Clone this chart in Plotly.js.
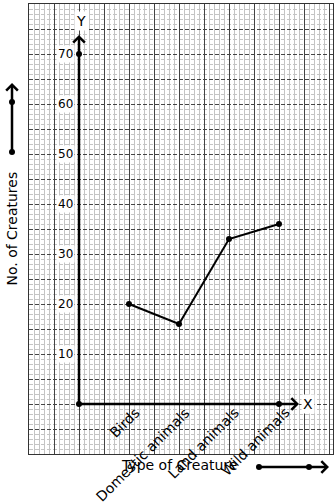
<!DOCTYPE html>
<html>
<head>
<meta charset="utf-8">
<script src="https://cdn.plot.ly/plotly-3.0.1.min.js"></script>
<style>html,body{margin:0;padding:0;background:#fff;}#chart{width:334px;height:503px;}</style>
</head>
<body>
<div id="chart"></div>
<script>
// ---- data ----
var categories = ["Birds", "Domestic animals", "Land animals", "Wild animals"];
var creatureCounts = [20, 16, 33, 36];
var yTickValues = [10, 20, 30, 40, 50, 60, 70];
var xTitle = "Type of Creature";
var yTitle = "No. of Creatures";

var xPos = categories.map(function (c, i) { return i + 1; });
var FONT = "DejaVu Sans, sans-serif";

var traces = [{
  type: "scatter",
  mode: "lines+markers",
  x: xPos,
  y: creatureCounts,
  text: categories,
  line: { color: "#000", width: 2 },
  marker: { color: "#000", size: 6 },
  hoverinfo: "text+y",
  showlegend: false
}];

var annotations = [];
// y tick labels on the y axis line
yTickValues.forEach(function (v) {
  annotations.push({
    xref: "x", yref: "y", x: 0, y: v, text: String(v),
    showarrow: false, xanchor: "right", yanchor: "middle", xshift: -4,
    bgcolor: "#fff", borderpad: 1,
    font: { family: FONT, size: 12, color: "#000" }
  });
});
// rotated category labels
categories.forEach(function (c, i) {
  annotations.push({
    xref: "x", yref: "y", x: xPos[i], y: 0, text: c,
    showarrow: false, textangle: -45, xanchor: "right", yanchor: "top",
    xshift: 16, yshift: 2,
    font: { family: FONT, size: 14, color: "#000" }
  });
});
// axis arrows
annotations.push({
  xref: "x", yref: "y", axref: "x", ayref: "y",
  x: 0, y: 73.8, ax: 0, ay: 0, text: "",
  showarrow: true, arrowhead: 4, arrowwidth: 2.5, arrowsize: 0.9, arrowcolor: "#000"
});
annotations.push({
  xref: "x", yref: "y", axref: "x", ayref: "y",
  x: 4.4, y: 0, ax: 0, ay: 0, text: "",
  showarrow: true, arrowhead: 4, arrowwidth: 2.5, arrowsize: 0.9, arrowcolor: "#000"
});
// axis letters
annotations.push({ xref: "x", yref: "y", x: 0.04, y: 76.6, text: "Y", showarrow: false,
  bgcolor: "#fff", font: { family: FONT, size: 14, color: "#000" } });
annotations.push({ xref: "x", yref: "y", x: 4.58, y: 0, text: "X", showarrow: false,
  bgcolor: "#fff", font: { family: FONT, size: 14, color: "#000" } });
// titles
annotations.push({ xref: "paper", yref: "paper", x: 0.492, y: -0.0244, text: xTitle,
  showarrow: false, xanchor: "center", yanchor: "middle",
  font: { family: FONT, size: 14, color: "#000" } });
annotations.push({ xref: "paper", yref: "paper", x: -0.0559, y: 0.501, text: yTitle,
  showarrow: false, textangle: -90, xanchor: "center", yanchor: "middle",
  font: { family: FONT, size: 14, color: "#000" } });
// margin direction arrows
annotations.push({ xref: "paper", yref: "paper", x: -0.0559, y: 0.8244, ax: 0, ay: 69, text: "",
  showarrow: true, arrowhead: 4, arrowwidth: 2.5, arrowsize: 0.9, arrowcolor: "#000" });
annotations.push({ xref: "paper", yref: "paper", x: 0.9868, y: -0.0289, ax: -70, ay: 0, text: "",
  showarrow: true, arrowhead: 4, arrowwidth: 2.5, arrowsize: 0.9, arrowcolor: "#000" });

function dot(xref, yref, x, y) {
  return { type: "circle", xref: xref, yref: yref, xsizemode: "pixel", ysizemode: "pixel",
    xanchor: x, yanchor: y, x0: -3, x1: 3, y0: -3, y1: 3,
    fillcolor: "#000", line: { width: 0 }, layer: "above" };
}
var shapes = [
  dot("x", "y", 0, 0), dot("x", "y", 0, 70), dot("x", "y", 4, 0),
  dot("paper", "paper", -0.0559, 0.6711), dot("paper", "paper", -0.0559, 0.7822),
  dot("paper", "paper", 0.7566, -0.0289), dot("paper", "paper", 0.9211, -0.0289)
];

var layout = {
  width: 334, height: 503,
  margin: { l: 29, r: 1, t: 4, b: 49, pad: 0 },
  paper_bgcolor: "#fff", plot_bgcolor: "#fff",
  showlegend: false,
  xaxis: {
    range: [-1, 5.08], tick0: 0, dtick: 0.5,
    showgrid: true, gridcolor: "#444", gridwidth: 1,
    minor: { tick0: 0, dtick: 0.1, showgrid: true, gridcolor: "#c4c4c4", gridwidth: 1 },
    showticklabels: false, ticks: "", zeroline: false,
    showline: true, linecolor: "#333", linewidth: 1, mirror: true, fixedrange: true
  },
  yaxis: {
    range: [-10, 80], tick0: 0, dtick: 5,
    showgrid: true, gridcolor: "#444", gridwidth: 1, griddash: "4px,2px",
    minor: { tick0: 0, dtick: 1, showgrid: true, gridcolor: "#c4c4c4", gridwidth: 1 },
    showticklabels: false, ticks: "", zeroline: false,
    showline: true, linecolor: "#333", linewidth: 1, mirror: true, fixedrange: true
  },
  annotations: annotations,
  shapes: shapes
};

Plotly.newPlot("chart", traces, layout, { displayModeBar: false, staticPlot: true });
</script>
</body>
</html>
